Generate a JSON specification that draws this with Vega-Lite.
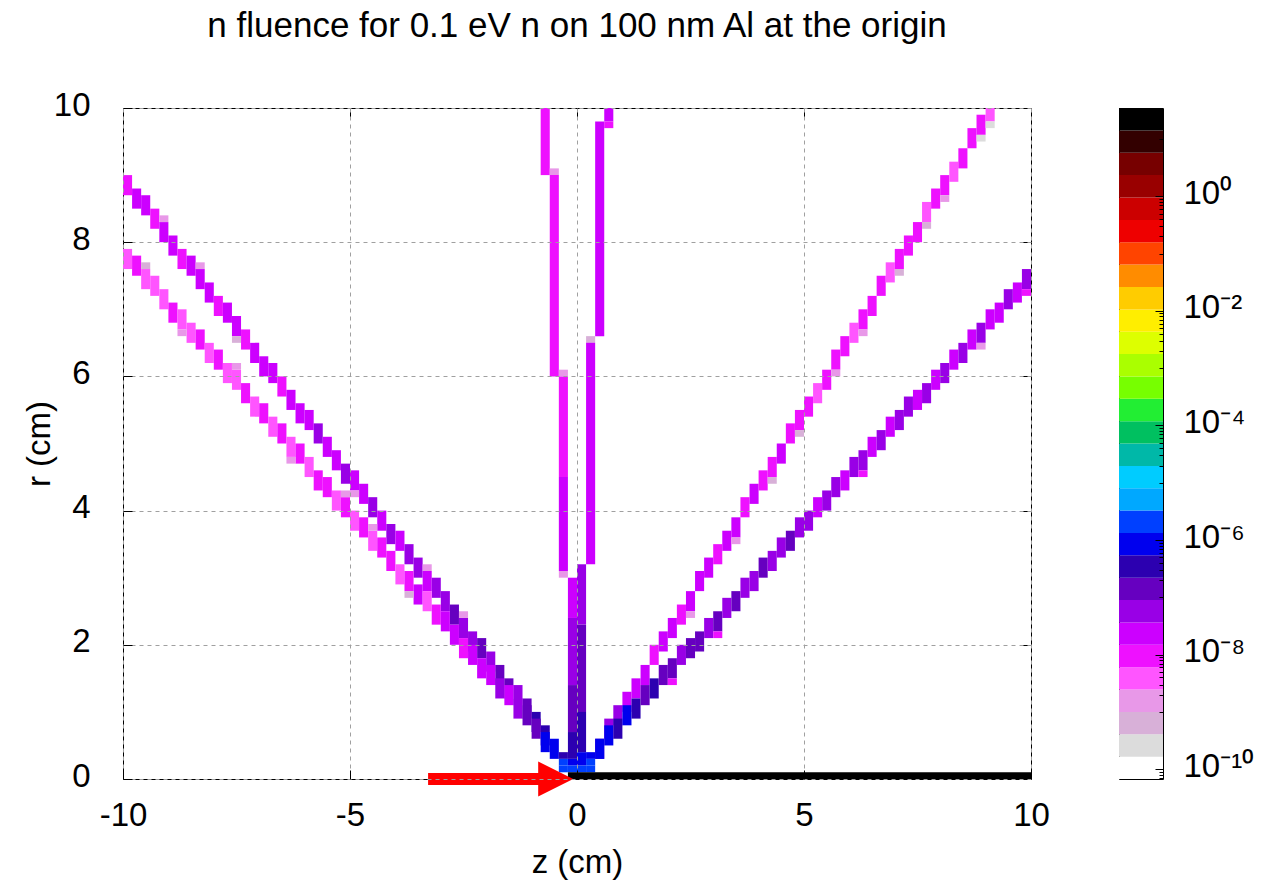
{
"$schema": "https://vega.github.io/schema/vega-lite/v6.json",
"padding": {"left": 22, "top": 8, "right": 5, "bottom": 5},
"background": "white",
"config": {
  "font": "Liberation Sans",
  "view": {"stroke": "#000000", "strokeWidth": 1},
  "axis": {"labelFont": "Liberation Sans", "labelFontSize": 33, "labelColor": "#000000", "titleFont": "Liberation Sans", "titleFontSize": 33, "titleFontWeight": "normal", "titleColor": "#000000", "domain": false, "tickColor": "#000000", "tickWidth": 1, "grid": false, "labelOverlap": false, "labelFlush": false}
},
"datasets": {
  "cells": [
{"z0":-10,"z1":-9.8,"r0":8.7,"r1":9,"f":1e-8},
{"z0":-9.8,"z1":-9.6,"r0":8.5,"r1":8.8,"f":2.3e-8},
{"z0":-9.6,"z1":-9.4,"r0":8.4,"r1":8.7,"f":2.3e-8},
{"z0":-9.4,"z1":-9.2,"r0":8.2,"r1":8.5,"f":1e-8},
{"z0":-9.2,"z1":-9,"r0":8,"r1":8.3,"f":2.3e-8},
{"z0":-9,"z1":-8.8,"r0":7.8,"r1":8.1,"f":2.3e-8},
{"z0":-8.8,"z1":-8.6,"r0":7.6,"r1":7.9,"f":1e-8},
{"z0":-8.6,"z1":-8.4,"r0":7.5,"r1":7.8,"f":2.3e-8},
{"z0":-8.4,"z1":-8.2,"r0":7.3,"r1":7.6,"f":2.3e-8},
{"z0":-8.2,"z1":-8,"r0":7.1,"r1":7.4,"f":2.3e-8},
{"z0":-8,"z1":-7.8,"r0":6.9,"r1":7.2,"f":1e-8},
{"z0":-7.8,"z1":-7.6,"r0":6.8,"r1":7.1,"f":2.3e-8},
{"z0":-7.6,"z1":-7.4,"r0":6.6,"r1":6.9,"f":2.3e-8},
{"z0":-7.4,"z1":-7.2,"r0":6.4,"r1":6.7,"f":1e-8},
{"z0":-7.2,"z1":-7,"r0":6.2,"r1":6.5,"f":2.3e-8},
{"z0":-7,"z1":-6.8,"r0":6,"r1":6.3,"f":2.3e-8},
{"z0":-6.8,"z1":-6.6,"r0":5.9,"r1":6.2,"f":2.3e-8},
{"z0":-6.6,"z1":-6.4,"r0":5.7,"r1":6,"f":1e-8},
{"z0":-6.4,"z1":-6.2,"r0":5.5,"r1":5.8,"f":2.3e-8},
{"z0":-6.2,"z1":-6,"r0":5.3,"r1":5.6,"f":2.3e-8},
{"z0":-6,"z1":-5.8,"r0":5.2,"r1":5.5,"f":2.3e-8},
{"z0":-5.8,"z1":-5.6,"r0":5,"r1":5.3,"f":5.5e-8},
{"z0":-5.6,"z1":-5.4,"r0":4.8,"r1":5.1,"f":2.3e-8},
{"z0":-5.4,"z1":-5.2,"r0":4.6,"r1":4.9,"f":2.3e-8},
{"z0":-5.2,"z1":-5,"r0":4.4,"r1":4.7,"f":5.5e-8},
{"z0":-5,"z1":-4.8,"r0":4.3,"r1":4.6,"f":2.3e-8},
{"z0":-4.8,"z1":-4.6,"r0":4.1,"r1":4.4,"f":2.3e-8},
{"z0":-4.6,"z1":-4.4,"r0":3.9,"r1":4.2,"f":5.5e-8},
{"z0":-4.4,"z1":-4.2,"r0":3.7,"r1":4,"f":2.3e-8},
{"z0":-4.2,"z1":-4,"r0":3.5,"r1":3.8,"f":5.5e-8},
{"z0":-4,"z1":-3.8,"r0":3.4,"r1":3.7,"f":2.3e-8},
{"z0":-3.8,"z1":-3.6,"r0":3.2,"r1":3.5,"f":5.5e-8},
{"z0":-3.6,"z1":-3.4,"r0":3,"r1":3.3,"f":5.5e-8},
{"z0":-3.4,"z1":-3.2,"r0":2.8,"r1":3.1,"f":2.3e-8},
{"z0":-3.2,"z1":-3,"r0":2.7,"r1":3,"f":5.5e-8},
{"z0":-3,"z1":-2.8,"r0":2.5,"r1":2.8,"f":5.5e-8},
{"z0":-2.8,"z1":-2.6,"r0":2.3,"r1":2.6,"f":1.4e-7},
{"z0":-2.6,"z1":-2.4,"r0":2.1,"r1":2.4,"f":5.5e-8},
{"z0":-2.4,"z1":-2.2,"r0":1.9,"r1":2.2,"f":5.5e-8},
{"z0":-2.2,"z1":-2,"r0":1.8,"r1":2.1,"f":1.4e-7},
{"z0":-2,"z1":-1.8,"r0":1.6,"r1":1.9,"f":5.5e-8},
{"z0":-1.8,"z1":-1.6,"r0":1.4,"r1":1.7,"f":1.4e-7},
{"z0":-1.6,"z1":-1.4,"r0":1.2,"r1":1.5,"f":1.4e-7},
{"z0":-1.4,"z1":-1.2,"r0":1.1,"r1":1.4,"f":5.5e-8},
{"z0":-1.2,"z1":-1,"r0":0.9,"r1":1.2,"f":1.4e-7},
{"z0":-1,"z1":-0.8,"r0":0.7,"r1":1,"f":3.5e-7},
{"z0":-0.8,"z1":-0.6,"r0":0.5,"r1":0.8,"f":3.5e-7},
{"z0":-0.6,"z1":-0.4,"r0":0.3,"r1":0.6,"f":8.5e-7},
{"z0":-9.2,"z1":-9,"r0":8.3,"r1":8.4,"f":1.5e-9},
{"z0":-8.4,"z1":-8.2,"r0":7.6,"r1":7.7,"f":1.5e-9},
{"z0":-7.6,"z1":-7.4,"r0":6.5,"r1":6.6,"f":6e-10},
{"z0":-5,"z1":-4.8,"r0":4.2,"r1":4.3,"f":1.5e-9},
{"z0":-3.4,"z1":-3.2,"r0":3.1,"r1":3.2,"f":1.5e-9},
{"z0":-2.6,"z1":-2.4,"r0":2.4,"r1":2.5,"f":1.5e-9},
{"z0":-10,"z1":-9.8,"r0":7.6,"r1":7.9,"f":4e-9},
{"z0":-9.8,"z1":-9.6,"r0":7.5,"r1":7.8,"f":1e-8},
{"z0":-9.6,"z1":-9.4,"r0":7.3,"r1":7.6,"f":4e-9},
{"z0":-9.4,"z1":-9.2,"r0":7.2,"r1":7.5,"f":4e-9},
{"z0":-9.2,"z1":-9,"r0":7,"r1":7.3,"f":4e-9},
{"z0":-9,"z1":-8.8,"r0":6.8,"r1":7.1,"f":1e-8},
{"z0":-8.8,"z1":-8.6,"r0":6.7,"r1":7,"f":4e-9},
{"z0":-8.6,"z1":-8.4,"r0":6.5,"r1":6.8,"f":4e-9},
{"z0":-8.4,"z1":-8.2,"r0":6.4,"r1":6.7,"f":1e-8},
{"z0":-8.2,"z1":-8,"r0":6.2,"r1":6.5,"f":4e-9},
{"z0":-8,"z1":-7.8,"r0":6.1,"r1":6.4,"f":1e-8},
{"z0":-7.8,"z1":-7.6,"r0":5.9,"r1":6.2,"f":4e-9},
{"z0":-7.6,"z1":-7.4,"r0":5.8,"r1":6.1,"f":4e-9},
{"z0":-7.4,"z1":-7.2,"r0":5.6,"r1":5.9,"f":1e-8},
{"z0":-7.2,"z1":-7,"r0":5.4,"r1":5.7,"f":4e-9},
{"z0":-7,"z1":-6.8,"r0":5.3,"r1":5.6,"f":1e-8},
{"z0":-6.8,"z1":-6.6,"r0":5.1,"r1":5.4,"f":4e-9},
{"z0":-6.6,"z1":-6.4,"r0":5,"r1":5.3,"f":1e-8},
{"z0":-6.4,"z1":-6.2,"r0":4.8,"r1":5.1,"f":4e-9},
{"z0":-6.2,"z1":-6,"r0":4.7,"r1":5,"f":1e-8},
{"z0":-6,"z1":-5.8,"r0":4.5,"r1":4.8,"f":4e-9},
{"z0":-5.8,"z1":-5.6,"r0":4.3,"r1":4.6,"f":1e-8},
{"z0":-5.6,"z1":-5.4,"r0":4.2,"r1":4.5,"f":1e-8},
{"z0":-5.4,"z1":-5.2,"r0":4,"r1":4.3,"f":4e-9},
{"z0":-5.2,"z1":-5,"r0":3.9,"r1":4.2,"f":1e-8},
{"z0":-5,"z1":-4.8,"r0":3.7,"r1":4,"f":4e-9},
{"z0":-4.8,"z1":-4.6,"r0":3.6,"r1":3.9,"f":1e-8},
{"z0":-4.6,"z1":-4.4,"r0":3.4,"r1":3.7,"f":4e-9},
{"z0":-4.4,"z1":-4.2,"r0":3.3,"r1":3.6,"f":1e-8},
{"z0":-4.2,"z1":-4,"r0":3.1,"r1":3.4,"f":1e-8},
{"z0":-4,"z1":-3.8,"r0":2.9,"r1":3.2,"f":4e-9},
{"z0":-3.8,"z1":-3.6,"r0":2.8,"r1":3.1,"f":1e-8},
{"z0":-3.6,"z1":-3.4,"r0":2.6,"r1":2.9,"f":2.3e-8},
{"z0":-3.4,"z1":-3.2,"r0":2.5,"r1":2.8,"f":4e-9},
{"z0":-3.2,"z1":-3,"r0":2.3,"r1":2.6,"f":1e-8},
{"z0":-3,"z1":-2.8,"r0":2.2,"r1":2.5,"f":2.3e-8},
{"z0":-2.8,"z1":-2.6,"r0":2,"r1":2.3,"f":2.3e-8},
{"z0":-2.6,"z1":-2.4,"r0":1.8,"r1":2.1,"f":1e-8},
{"z0":-2.4,"z1":-2.2,"r0":1.7,"r1":2,"f":2.3e-8},
{"z0":-2.2,"z1":-2,"r0":1.5,"r1":1.8,"f":2.3e-8},
{"z0":-2,"z1":-1.8,"r0":1.4,"r1":1.7,"f":2.3e-8},
{"z0":-1.8,"z1":-1.6,"r0":1.2,"r1":1.5,"f":5.5e-8},
{"z0":-1.6,"z1":-1.4,"r0":1.1,"r1":1.4,"f":2.3e-8},
{"z0":-1.4,"z1":-1.2,"r0":0.9,"r1":1.2,"f":5.5e-8},
{"z0":-1.2,"z1":-1,"r0":0.8,"r1":1.1,"f":1.4e-7},
{"z0":-1,"z1":-0.8,"r0":0.6,"r1":0.9,"f":1.4e-7},
{"z0":-0.8,"z1":-0.6,"r0":0.4,"r1":0.7,"f":8.5e-7},
{"z0":-9.6,"z1":-9.4,"r0":7.6,"r1":7.7,"f":6e-10},
{"z0":-8.8,"z1":-8.6,"r0":6.6,"r1":6.7,"f":1.5e-9},
{"z0":-7.6,"z1":-7.4,"r0":6.1,"r1":6.2,"f":1.5e-9},
{"z0":-6.4,"z1":-6.2,"r0":4.7,"r1":4.8,"f":1.5e-9},
{"z0":-5.2,"z1":-5,"r0":4.2,"r1":4.3,"f":1.5e-9},
{"z0":-4.6,"z1":-4.4,"r0":3.7,"r1":3.8,"f":1.5e-9},
{"z0":-3.8,"z1":-3.6,"r0":2.7,"r1":2.8,"f":6e-10},
{"z0":0.4,"z1":0.6,"r0":0.3,"r1":0.6,"f":1.4e-7},
{"z0":0.6,"z1":0.8,"r0":0.6,"r1":0.9,"f":5.5e-8},
{"z0":0.8,"z1":1,"r0":0.8,"r1":1.1,"f":5.5e-8},
{"z0":1,"z1":1.2,"r0":1,"r1":1.3,"f":2.3e-8},
{"z0":1.2,"z1":1.4,"r0":1.2,"r1":1.5,"f":2.3e-8},
{"z0":1.4,"z1":1.6,"r0":1.4,"r1":1.7,"f":2.3e-8},
{"z0":1.6,"z1":1.8,"r0":1.7,"r1":2,"f":1e-8},
{"z0":1.8,"z1":2,"r0":1.9,"r1":2.2,"f":2.3e-8},
{"z0":2,"z1":2.2,"r0":2.1,"r1":2.4,"f":2.3e-8},
{"z0":2.2,"z1":2.4,"r0":2.3,"r1":2.6,"f":1e-8},
{"z0":2.4,"z1":2.6,"r0":2.5,"r1":2.8,"f":2.3e-8},
{"z0":2.6,"z1":2.8,"r0":2.8,"r1":3.1,"f":2.3e-8},
{"z0":2.8,"z1":3,"r0":3,"r1":3.3,"f":2.3e-8},
{"z0":3,"z1":3.2,"r0":3.2,"r1":3.5,"f":1e-8},
{"z0":3.2,"z1":3.4,"r0":3.4,"r1":3.7,"f":2.3e-8},
{"z0":3.4,"z1":3.6,"r0":3.6,"r1":3.9,"f":2.3e-8},
{"z0":3.6,"z1":3.8,"r0":3.9,"r1":4.2,"f":1e-8},
{"z0":3.8,"z1":4,"r0":4.1,"r1":4.4,"f":2.3e-8},
{"z0":4,"z1":4.2,"r0":4.3,"r1":4.6,"f":1e-8},
{"z0":4.2,"z1":4.4,"r0":4.5,"r1":4.8,"f":1e-8},
{"z0":4.4,"z1":4.6,"r0":4.7,"r1":5,"f":2.3e-8},
{"z0":4.6,"z1":4.8,"r0":5,"r1":5.3,"f":1e-8},
{"z0":4.8,"z1":5,"r0":5.2,"r1":5.5,"f":1e-8},
{"z0":5,"z1":5.2,"r0":5.4,"r1":5.7,"f":1e-8},
{"z0":5.2,"z1":5.4,"r0":5.6,"r1":5.9,"f":4e-9},
{"z0":5.4,"z1":5.6,"r0":5.8,"r1":6.1,"f":1e-8},
{"z0":5.6,"z1":5.8,"r0":6.1,"r1":6.4,"f":1e-8},
{"z0":5.8,"z1":6,"r0":6.3,"r1":6.6,"f":1e-8},
{"z0":6,"z1":6.2,"r0":6.5,"r1":6.8,"f":4e-9},
{"z0":6.2,"z1":6.4,"r0":6.7,"r1":7,"f":1e-8},
{"z0":6.4,"z1":6.6,"r0":6.9,"r1":7.2,"f":1e-8},
{"z0":6.6,"z1":6.8,"r0":7.2,"r1":7.5,"f":1e-8},
{"z0":6.8,"z1":7,"r0":7.4,"r1":7.7,"f":4e-9},
{"z0":7,"z1":7.2,"r0":7.6,"r1":7.9,"f":1e-8},
{"z0":7.2,"z1":7.4,"r0":7.8,"r1":8.1,"f":1e-8},
{"z0":7.4,"z1":7.6,"r0":8,"r1":8.3,"f":1e-8},
{"z0":7.6,"z1":7.8,"r0":8.3,"r1":8.6,"f":4e-9},
{"z0":7.8,"z1":8,"r0":8.5,"r1":8.8,"f":1e-8},
{"z0":8,"z1":8.2,"r0":8.7,"r1":9,"f":1e-8},
{"z0":8.2,"z1":8.4,"r0":8.9,"r1":9.2,"f":4e-9},
{"z0":8.4,"z1":8.6,"r0":9.1,"r1":9.4,"f":1e-8},
{"z0":8.6,"z1":8.8,"r0":9.4,"r1":9.7,"f":1e-8},
{"z0":8.8,"z1":9,"r0":9.6,"r1":9.9,"f":1e-8},
{"z0":9,"z1":9.2,"r0":9.8,"r1":10,"f":4e-9},
{"z0":9,"z1":9.2,"r0":9.7,"r1":9.8,"f":2.5e-10},
{"z0":8.8,"z1":9,"r0":9.5,"r1":9.6,"f":2.5e-10},
{"z0":8,"z1":8.2,"r0":8.6,"r1":8.7,"f":1.5e-9},
{"z0":7.6,"z1":7.8,"r0":8.2,"r1":8.3,"f":6e-10},
{"z0":7,"z1":7.2,"r0":7.5,"r1":7.6,"f":6e-10},
{"z0":6.2,"z1":6.4,"r0":6.6,"r1":6.7,"f":1.5e-9},
{"z0":5.6,"z1":5.8,"r0":6,"r1":6.1,"f":1.5e-9},
{"z0":4.8,"z1":5,"r0":5.1,"r1":5.2,"f":6e-10},
{"z0":4.2,"z1":4.4,"r0":4.4,"r1":4.5,"f":6e-10},
{"z0":3.4,"z1":3.6,"r0":3.5,"r1":3.6,"f":1.5e-9},
{"z0":2.4,"z1":2.6,"r0":2.4,"r1":2.5,"f":1.5e-9},
{"z0":0.4,"z1":0.6,"r0":0.3,"r1":0.6,"f":8.5e-7},
{"z0":0.6,"z1":0.8,"r0":0.5,"r1":0.8,"f":8.5e-7},
{"z0":0.8,"z1":1,"r0":0.6,"r1":0.9,"f":3.5e-7},
{"z0":1,"z1":1.2,"r0":0.8,"r1":1.1,"f":8.5e-7},
{"z0":1.2,"z1":1.4,"r0":0.9,"r1":1.2,"f":3.5e-7},
{"z0":1.4,"z1":1.6,"r0":1.1,"r1":1.4,"f":1.4e-7},
{"z0":1.6,"z1":1.8,"r0":1.2,"r1":1.5,"f":3.5e-7},
{"z0":1.8,"z1":2,"r0":1.4,"r1":1.7,"f":1.4e-7},
{"z0":2,"z1":2.2,"r0":1.5,"r1":1.8,"f":1.4e-7},
{"z0":2.2,"z1":2.4,"r0":1.7,"r1":2,"f":5.5e-8},
{"z0":2.4,"z1":2.6,"r0":1.8,"r1":2.1,"f":1.4e-7},
{"z0":2.6,"z1":2.8,"r0":1.9,"r1":2.2,"f":1.4e-7},
{"z0":2.8,"z1":3,"r0":2.1,"r1":2.4,"f":5.5e-8},
{"z0":3,"z1":3.2,"r0":2.2,"r1":2.5,"f":1.4e-7},
{"z0":3.2,"z1":3.4,"r0":2.4,"r1":2.7,"f":5.5e-8},
{"z0":3.4,"z1":3.6,"r0":2.5,"r1":2.8,"f":1.4e-7},
{"z0":3.6,"z1":3.8,"r0":2.7,"r1":3,"f":5.5e-8},
{"z0":3.8,"z1":4,"r0":2.8,"r1":3.1,"f":5.5e-8},
{"z0":4,"z1":4.2,"r0":3,"r1":3.3,"f":1.4e-7},
{"z0":4.2,"z1":4.4,"r0":3.1,"r1":3.4,"f":5.5e-8},
{"z0":4.4,"z1":4.6,"r0":3.3,"r1":3.6,"f":5.5e-8},
{"z0":4.6,"z1":4.8,"r0":3.4,"r1":3.7,"f":1.4e-7},
{"z0":4.8,"z1":5,"r0":3.6,"r1":3.9,"f":5.5e-8},
{"z0":5,"z1":5.2,"r0":3.7,"r1":4,"f":5.5e-8},
{"z0":5.2,"z1":5.4,"r0":3.9,"r1":4.2,"f":2.3e-8},
{"z0":5.4,"z1":5.6,"r0":4,"r1":4.3,"f":5.5e-8},
{"z0":5.6,"z1":5.8,"r0":4.2,"r1":4.5,"f":5.5e-8},
{"z0":5.8,"z1":6,"r0":4.3,"r1":4.6,"f":2.3e-8},
{"z0":6,"z1":6.2,"r0":4.5,"r1":4.8,"f":5.5e-8},
{"z0":6.2,"z1":6.4,"r0":4.6,"r1":4.9,"f":5.5e-8},
{"z0":6.4,"z1":6.6,"r0":4.8,"r1":5.1,"f":2.3e-8},
{"z0":6.6,"z1":6.8,"r0":4.9,"r1":5.2,"f":5.5e-8},
{"z0":6.8,"z1":7,"r0":5.1,"r1":5.4,"f":2.3e-8},
{"z0":7,"z1":7.2,"r0":5.2,"r1":5.5,"f":5.5e-8},
{"z0":7.2,"z1":7.4,"r0":5.4,"r1":5.7,"f":5.5e-8},
{"z0":7.4,"z1":7.6,"r0":5.5,"r1":5.8,"f":2.3e-8},
{"z0":7.6,"z1":7.8,"r0":5.6,"r1":5.9,"f":5.5e-8},
{"z0":7.8,"z1":8,"r0":5.8,"r1":6.1,"f":2.3e-8},
{"z0":8,"z1":8.2,"r0":5.9,"r1":6.2,"f":5.5e-8},
{"z0":8.2,"z1":8.4,"r0":6.1,"r1":6.4,"f":2.3e-8},
{"z0":8.4,"z1":8.6,"r0":6.2,"r1":6.5,"f":5.5e-8},
{"z0":8.6,"z1":8.8,"r0":6.4,"r1":6.7,"f":2.3e-8},
{"z0":8.8,"z1":9,"r0":6.5,"r1":6.8,"f":5.5e-8},
{"z0":9,"z1":9.2,"r0":6.7,"r1":7,"f":2.3e-8},
{"z0":9.2,"z1":9.4,"r0":6.8,"r1":7.1,"f":2.3e-8},
{"z0":9.4,"z1":9.6,"r0":7,"r1":7.3,"f":5.5e-8},
{"z0":9.6,"z1":9.8,"r0":7.1,"r1":7.4,"f":2.3e-8},
{"z0":9.8,"z1":10,"r0":7.3,"r1":7.6,"f":5.5e-8},
{"z0":9.8,"z1":10,"r0":7.2,"r1":7.3,"f":1e-8},
{"z0":8.8,"z1":9,"r0":6.4,"r1":6.5,"f":1.5e-9},
{"z0":6.2,"z1":6.4,"r0":4.5,"r1":4.6,"f":1e-8},
{"z0":3,"z1":3.2,"r0":2.1,"r1":2.2,"f":1e-8},
{"z0":2,"z1":2.2,"r0":1.4,"r1":1.5,"f":1e-8},
{"z0":-0.8,"z1":-0.6,"r0":9,"r1":10,"f":1e-8},
{"z0":-0.6,"z1":-0.4,"r0":9,"r1":9.1,"f":1.5e-9},
{"z0":-0.6,"z1":-0.4,"r0":6,"r1":9,"f":1e-8},
{"z0":-0.4,"z1":-0.2,"r0":6,"r1":6.1,"f":1.5e-9},
{"z0":-0.4,"z1":-0.2,"r0":4.5,"r1":6,"f":1e-8},
{"z0":-0.4,"z1":-0.2,"r0":3.1,"r1":4.5,"f":2.3e-8},
{"z0":-0.4,"z1":-0.2,"r0":3,"r1":3.1,"f":1.5e-9},
{"z0":-0.2,"z1":0,"r0":2.4,"r1":3,"f":2.3e-8},
{"z0":-0.2,"z1":0,"r0":1.4,"r1":2.4,"f":5.5e-8},
{"z0":-0.2,"z1":0,"r0":0.7,"r1":1.4,"f":1.4e-7},
{"z0":-0.2,"z1":0,"r0":0.3,"r1":0.7,"f":3.5e-7},
{"z0":-0.2,"z1":0,"r0":0.2,"r1":0.3,"f":8.5e-7},
{"z0":-0.2,"z1":0,"r0":0.1,"r1":0.2,"f":2e-6},
{"z0":-0.4,"z1":-0.2,"r0":0.3,"r1":0.4,"f":3.5e-7},
{"z0":-0.4,"z1":-0.2,"r0":0.2,"r1":0.3,"f":2e-6},
{"z0":-0.4,"z1":-0.2,"r0":0.1,"r1":0.2,"f":2e-6},
{"z0":0.6,"z1":0.8,"r0":9.8,"r1":10,"f":2.3e-8},
{"z0":0.6,"z1":0.8,"r0":9.7,"r1":9.8,"f":1e-8},
{"z0":0.4,"z1":0.6,"r0":6.6,"r1":9.8,"f":2.3e-8},
{"z0":0.2,"z1":0.4,"r0":6.5,"r1":6.6,"f":6e-10},
{"z0":0.2,"z1":0.4,"r0":3.2,"r1":6.5,"f":2.3e-8},
{"z0":0,"z1":0.2,"r0":2.3,"r1":3.2,"f":5.5e-8},
{"z0":0,"z1":0.2,"r0":1,"r1":2.3,"f":1.4e-7},
{"z0":0,"z1":0.2,"r0":0.4,"r1":1,"f":3.5e-7},
{"z0":0,"z1":0.2,"r0":0.2,"r1":0.4,"f":8.5e-7},
{"z0":0,"z1":0.2,"r0":0.1,"r1":0.2,"f":2e-6},
{"z0":0.2,"z1":0.4,"r0":0.3,"r1":0.4,"f":8.5e-7},
{"z0":0.2,"z1":0.4,"r0":0.2,"r1":0.3,"f":2e-6},
{"z0":0.2,"z1":0.4,"r0":0.1,"r1":0.2,"f":2e-6},
{"z0":-0.2,"z1":10,"r0":0,"r1":0.1,"f":20}
  ],
  "bands": [
{"lo":6.76e-11,"hi":1.66e-10,"f":1.06e-10},
{"lo":1.66e-10,"hi":4.08e-10,"f":2.6e-10},
{"lo":4.08e-10,"hi":1e-9,"f":6.4e-10},
{"lo":1e-9,"hi":2.46e-9,"f":1.57e-9},
{"lo":2.46e-9,"hi":6.05e-9,"f":3.86e-9},
{"lo":6.05e-9,"hi":1.49e-8,"f":9.5e-9},
{"lo":1.49e-8,"hi":3.65e-8,"f":2.33e-8},
{"lo":3.65e-8,"hi":8.97e-8,"f":5.72e-8},
{"lo":8.97e-8,"hi":2.2e-7,"f":1.4e-7},
{"lo":2.2e-7,"hi":5.41e-7,"f":3.45e-7},
{"lo":5.41e-7,"hi":1.33e-6,"f":8.48e-7},
{"lo":1.33e-6,"hi":3.27e-6,"f":2.09e-6},
{"lo":3.27e-6,"hi":8.02e-6,"f":5.12e-6},
{"lo":8.02e-6,"hi":1.97e-5,"f":1.26e-5},
{"lo":1.97e-5,"hi":4.84e-5,"f":3.09e-5},
{"lo":4.84e-5,"hi":1.19e-4,"f":7.59e-5},
{"lo":1.19e-4,"hi":2.92e-4,"f":1.86e-4},
{"lo":2.92e-4,"hi":7.18e-4,"f":4.58e-4},
{"lo":7.18e-4,"hi":1.76e-3,"f":1.12e-3},
{"lo":1.76e-3,"hi":4.34e-3,"f":2.76e-3},
{"lo":4.34e-3,"hi":1.06e-2,"f":6.78e-3},
{"lo":1.06e-2,"hi":2.61e-2,"f":1.66e-2},
{"lo":2.61e-2,"hi":6.43e-2,"f":4.1e-2},
{"lo":6.43e-2,"hi":0.158,"f":0.101},
{"lo":0.158,"hi":0.387,"f":0.247},
{"lo":0.387,"hi":0.953,"f":0.607},
{"lo":0.953,"hi":2.34,"f":1.49},
{"lo":2.34,"hi":5.74,"f":3.66},
{"lo":5.74,"hi":14.1,"f":9},
{"lo":14.1,"hi":34.7,"f":22.1}
  ],
  "arrow": [{"z0":-3.28,"z1":-0.8,"r":0}],
  "head": [{"z":-0.47,"r":0}]
},
"spacing": 88,
"bounds": "flush",
"hconcat": [
  {
    "width": 908,
    "height": 671,
    "title": {"text": "n fluence for 0.1 eV n on 100 nm Al at the origin", "font": "Liberation Sans", "fontSize": 35, "fontWeight": "normal", "color": "#000000", "anchor": "middle", "frame": "group", "baseline": "alphabetic", "offset": 17},
    "resolve": {"axis": {"x": "independent", "y": "independent"}},
    "layer": [
      {
        "data": {"name": "cells"},
        "mark": {"type": "rect"},
        "encoding": {
          "x": {"field": "z0", "type": "quantitative", "scale": {"domain": [-10, 10], "nice": false, "zero": false},
                "axis": {"orient": "bottom", "values": [-10, -5, 0, 5, 10], "labelExpr": "'' + datum.value", "grid": true, "gridDash": [4, 4], "gridColor": "#a0a0a0", "gridWidth": 1, "gridOpacity": 1, "tickSize": -9, "labelPadding": 29, "title": "z (cm)", "titlePadding": 14, "zindex": 1}},
          "x2": {"field": "z1"},
          "y": {"field": "r0", "type": "quantitative", "scale": {"domain": [0, 10], "nice": false, "zero": false},
                "axis": {"orient": "left", "values": [0, 2, 4, 6, 8, 10], "grid": true, "gridDash": [4, 4], "gridColor": "#a0a0a0", "gridWidth": 1, "gridOpacity": 1, "tickSize": -9, "labelPadding": 42, "labelOffset": -3, "title": "r (cm)", "titlePadding": -3, "zindex": 1}},
          "y2": {"field": "r1"},
          "color": {"field": "f", "type": "quantitative",
                    "scale": {"type": "threshold",
                              "domain": [1.66e-10, 4.08e-10, 1e-9, 2.46e-9, 6.05e-9, 1.49e-8, 3.65e-8, 8.97e-8, 2.2e-7, 5.41e-7, 1.33e-6, 3.27e-6, 8.02e-6, 1.97e-5, 4.84e-5, 1.19e-4, 2.92e-4, 7.18e-4, 1.76e-3, 4.34e-3, 1.06e-2, 2.61e-2, 6.43e-2, 0.158, 0.387, 0.953, 2.34, 5.74, 14.1],
                              "range": ["#ffffff", "#dcdcdc", "#d8b0d8", "#e898e8", "#ff55ff", "#ee11ff", "#cc00ff", "#9900e6", "#6600c0", "#2c00b0", "#0000ee", "#0040ff", "#00a8ff", "#00ccff", "#00b8a8", "#00c060", "#22ee33", "#77ff00", "#aaff00", "#ddff00", "#ffee00", "#ffcc00", "#ff8c00", "#ff4400", "#ee0000", "#cc0000", "#990000", "#770000", "#330000", "#000000"]},
                    "legend": null}
        }
      },
      {
        "data": {"name": "arrow"},
        "mark": {"type": "rule", "color": "#ff0000", "strokeWidth": 12, "strokeCap": "butt", "clip": false},
        "encoding": {
          "x": {"field": "z0", "type": "quantitative", "scale": {"domain": [-10, 10], "nice": false, "zero": false}, "axis": null},
          "x2": {"field": "z1"},
          "y": {"field": "r", "type": "quantitative", "scale": {"domain": [0, 10], "nice": false, "zero": false}, "axis": null}
        }
      },
      {
        "data": {"name": "head"},
        "mark": {"type": "point", "shape": "M-1,-1L1,0L-1,1Z", "size": 1225, "filled": true, "color": "#ff0000", "opacity": 1, "strokeWidth": 0, "clip": false},
        "encoding": {
          "x": {"field": "z", "type": "quantitative", "scale": {"domain": [-10, 10], "nice": false, "zero": false},
                "axis": {"orient": "top", "values": [-10, -5, 0, 5, 10], "labels": false, "tickSize": -9, "title": null, "offset": 0}},
          "y": {"field": "r", "type": "quantitative", "scale": {"domain": [0, 10], "nice": false, "zero": false},
                "axis": {"orient": "right", "values": [0, 2, 4, 6, 8, 10], "labels": false, "tickSize": -9, "title": null, "offset": 0}}
        }
      }
    ]
  },
  {
    "width": 44,
    "height": 671,
    "data": {"name": "bands"},
    "mark": {"type": "rect"},
    "encoding": {
      "y": {"field": "lo", "type": "quantitative", "scale": {"type": "log", "domain": [6.76e-11, 34.7], "nice": false},
            "axis": {"orient": "right", "title": null, "zindex": 1,
                     "values": [7e-11, 8e-11, 9e-11, 1e-10, 1e-9, 2e-9, 3e-9, 4e-9, 5e-9, 6e-9, 7e-9, 8e-9, 9e-9, 1e-8, 1e-7, 2e-7, 3e-7, 4e-7, 5e-7, 6e-7, 7e-7, 8e-7, 9e-7, 1e-6, 1e-5, 2e-5, 3e-5, 4e-5, 5e-5, 6e-5, 7e-5, 8e-5, 9e-5, 0.0001, 0.001, 0.002, 0.003, 0.004, 0.005, 0.006, 0.007, 0.008, 0.009, 0.01, 0.1, 0.2, 0.3, 0.4, 0.5, 0.6, 0.7, 0.8, 0.9, 1, 10, 20, 30],
                     "tickSize": {"condition": {"test": "abs(log(datum.value)/LN10 - round(log(datum.value)/LN10)) < 0.01 && round(log(datum.value)/LN10) % 2 == 0", "value": -8}, "value": -4},
                     "labelExpr": "datum.value == 1 ? '10\u2070' : datum.value == 0.01 ? '10\u207b\u00b2' : datum.value == 0.0001 ? '10\u207b\u2074' : datum.value == 1e-6 ? '10\u207b\u2076' : datum.value == 1e-8 ? '10\u207b\u2078' : datum.value == 1e-10 ? '10\u207b\u00b9\u2070' : ''",
                     "labelPadding": 28, "labelAlign": "left", "labelBaseline": "middle", "labelOffset": -3}},
      "y2": {"field": "hi"},
      "color": {"field": "f", "type": "quantitative",
                "scale": {"type": "threshold",
                          "domain": [1.66e-10, 4.08e-10, 1e-9, 2.46e-9, 6.05e-9, 1.49e-8, 3.65e-8, 8.97e-8, 2.2e-7, 5.41e-7, 1.33e-6, 3.27e-6, 8.02e-6, 1.97e-5, 4.84e-5, 1.19e-4, 2.92e-4, 7.18e-4, 1.76e-3, 4.34e-3, 1.06e-2, 2.61e-2, 6.43e-2, 0.158, 0.387, 0.953, 2.34, 5.74, 14.1],
                          "range": ["#ffffff", "#dcdcdc", "#d8b0d8", "#e898e8", "#ff55ff", "#ee11ff", "#cc00ff", "#9900e6", "#6600c0", "#2c00b0", "#0000ee", "#0040ff", "#00a8ff", "#00ccff", "#00b8a8", "#00c060", "#22ee33", "#77ff00", "#aaff00", "#ddff00", "#ffee00", "#ffcc00", "#ff8c00", "#ff4400", "#ee0000", "#cc0000", "#990000", "#770000", "#330000", "#000000"]},
                "legend": null}
    }
  }
]
}
